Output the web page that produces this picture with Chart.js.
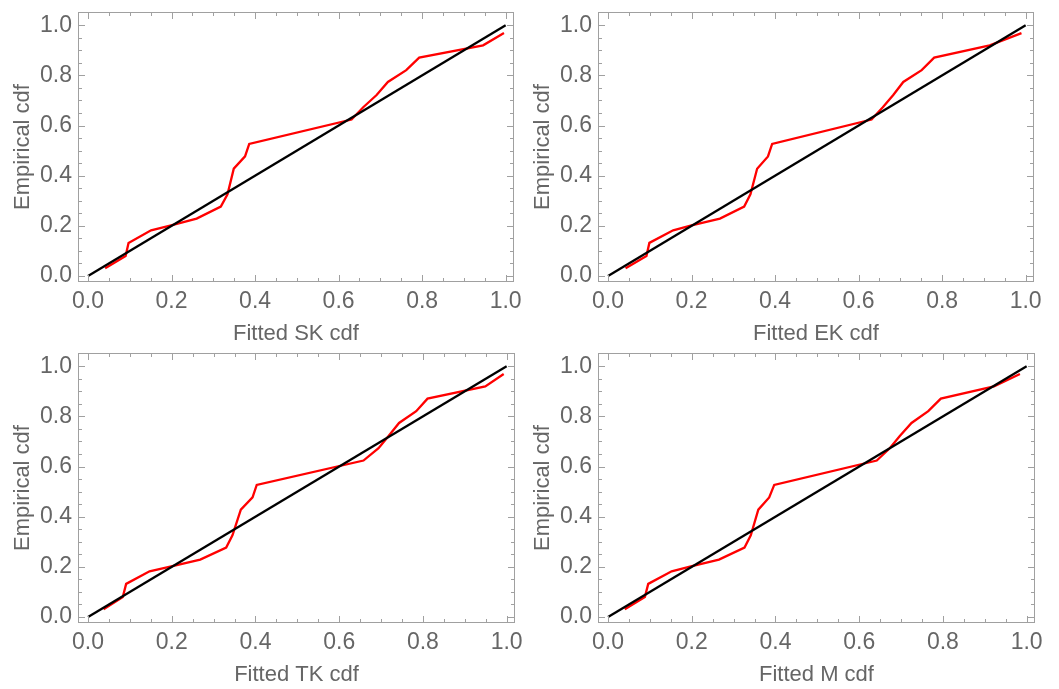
<!DOCTYPE html>
<html><head><meta charset="utf-8">
<script src="https://cdn.jsdelivr.net/npm/chart.js@4/dist/chart.umd.min.js"></script>
<style>
html,body{margin:0;padding:0;background:#fff;width:1059px;height:689px;overflow:hidden;}
canvas{position:absolute;}
</style></head><body>
<canvas id="c1" width="530" height="344" style="left:0;top:0"></canvas>
<canvas id="c2" width="530" height="344" style="left:520px;top:0"></canvas>
<canvas id="c3" width="530" height="348" style="left:0;top:341px"></canvas>
<canvas id="c4" width="530" height="348" style="left:520px;top:341px"></canvas>
<script>
// Empirical cdf values (shared by all four panels)
const empiricalCdf = [0.031,0.080,0.132,0.182,0.202,0.229,0.277,0.326,0.428,0.477,0.527,0.624,0.673,0.722,0.774,0.821,0.871,0.920,0.969];
// Fitted cdf values for each model
const fittedSK = [0.041,0.090,0.097,0.151,0.199,0.260,0.318,0.334,0.349,0.376,0.386,0.631,0.659,0.691,0.718,0.762,0.793,0.946,0.996];
const fittedEK = [0.042,0.092,0.099,0.156,0.200,0.268,0.326,0.341,0.357,0.383,0.393,0.631,0.658,0.683,0.707,0.751,0.781,0.914,0.990];
const fittedTK = [0.037,0.083,0.091,0.147,0.199,0.268,0.330,0.345,0.365,0.393,0.403,0.658,0.694,0.718,0.743,0.784,0.811,0.949,0.993];
const fittedM  = [0.040,0.088,0.096,0.152,0.198,0.265,0.326,0.341,0.359,0.385,0.397,0.642,0.673,0.697,0.725,0.765,0.795,0.922,0.984];
// Reference diagonal
const diagX = [0,1];
const diagY = [0,1];
// Tick values
const majorTicks = [0,0.2,0.4,0.6,0.8,1.0];
const minorTicks = [0.05,0.1,0.15,0.25,0.3,0.35,0.45,0.5,0.55,0.65,0.7,0.75,0.85,0.9,0.95];
const xTitles = ["Fitted SK cdf","Fitted EK cdf","Fitted TK cdf","Fitted M cdf"];
const yTitle = "Empirical cdf";

const TICKFONT = {family:"'Liberation Sans', Arial, sans-serif", size:23};
const TITLEFONT = {family:"'Liberation Sans', Arial, sans-serif", size:22};
const TXT = '#666666';
const FRAME = '#a0a0a0';

const framePlugin = {
  id:'frameTicks',
  afterDraw(chart){
    const {ctx, chartArea:a, scales:{x,y}} = chart;
    ctx.save();
    ctx.strokeStyle = FRAME;
    ctx.lineWidth = 1;
    ctx.strokeRect(Math.round(a.left)+0.5, Math.round(a.top)+0.5, Math.round(a.right-a.left)-1, Math.round(a.bottom-a.top)-1);
    const drawT = (vals, len) => {
      ctx.beginPath();
      vals.forEach(v=>{
        const px = Math.round(x.getPixelForValue(v))+0.5;
        ctx.moveTo(px, a.bottom); ctx.lineTo(px, a.bottom-len);
        ctx.moveTo(px, a.top); ctx.lineTo(px, a.top+len);
        const py = Math.round(y.getPixelForValue(v))+0.5;
        ctx.moveTo(a.left, py); ctx.lineTo(a.left+len, py);
        ctx.moveTo(a.right, py); ctx.lineTo(a.right-len, py);
      });
      ctx.stroke();
    };
    drawT(majorTicks, 7);
    drawT(minorTicks, 4);
    ctx.restore();
  }
};

function makeChart(id, fitted, xTitle, xAxisH, padRight, titleBottomPad){
  const redPts = fitted.map((v,i)=>({x:v, y:empiricalCdf[i]}));
  const diagPts = diagX.map((v,i)=>({x:v, y:diagY[i]}));
  new Chart(document.getElementById(id), {
    type:'scatter',
    data:{datasets:[
      {data:diagPts, showLine:true, borderColor:'#000000', borderWidth:2.3, pointRadius:0, order:0},
      {data:redPts, showLine:true, borderColor:'#ff0000', borderWidth:2.3, pointRadius:0, order:1}
    ]},
    options:{
      responsive:false, animation:false, events:[],
      layout:{padding:{top:12, right:padRight, left:0, bottom:0}},
      plugins:{legend:{display:false}, tooltip:{enabled:false}},
      scales:{
        x:{type:'linear', min:-0.024, max:1.02,
          grid:{display:false}, border:{display:false},
          afterBuildTicks:s=>{s.ticks = majorTicks.map(v=>({value:v}));},
          afterFit:s=>{s.height = xAxisH;},
          ticks:{font:TICKFONT, color:TXT, padding:-2, maxRotation:0, autoSkip:false, callback:v=>Number(v).toFixed(1)},
          title:{display:true, text:xTitle, font:TITLEFONT, color:TXT, padding:{top:0,bottom:titleBottomPad}}
        },
        y:{type:'linear', min:-0.024, max:1.053,
          grid:{display:false}, border:{display:false},
          afterBuildTicks:s=>{s.ticks = majorTicks.map(v=>({value:v}));},
          afterFit:s=>{s.width = 78;},
          ticks:{font:TICKFONT, color:TXT, padding:-2, autoSkip:false, callback:v=>Number(v).toFixed(1)},
          title:{display:true, text:yTitle, font:TITLEFONT, color:TXT, padding:{top:10,bottom:0}}
        }
      }
    },
    plugins:[framePlugin]
  });
}
makeChart('c1', fittedSK, xTitles[0], 62, 16, -3);
makeChart('c2', fittedEK, xTitles[1], 62, 16, -3);
makeChart('c3', fittedTK, xTitles[2], 66, 15, 1);
makeChart('c4', fittedM,  xTitles[3], 66, 15, 1);
</script>
</body></html>
